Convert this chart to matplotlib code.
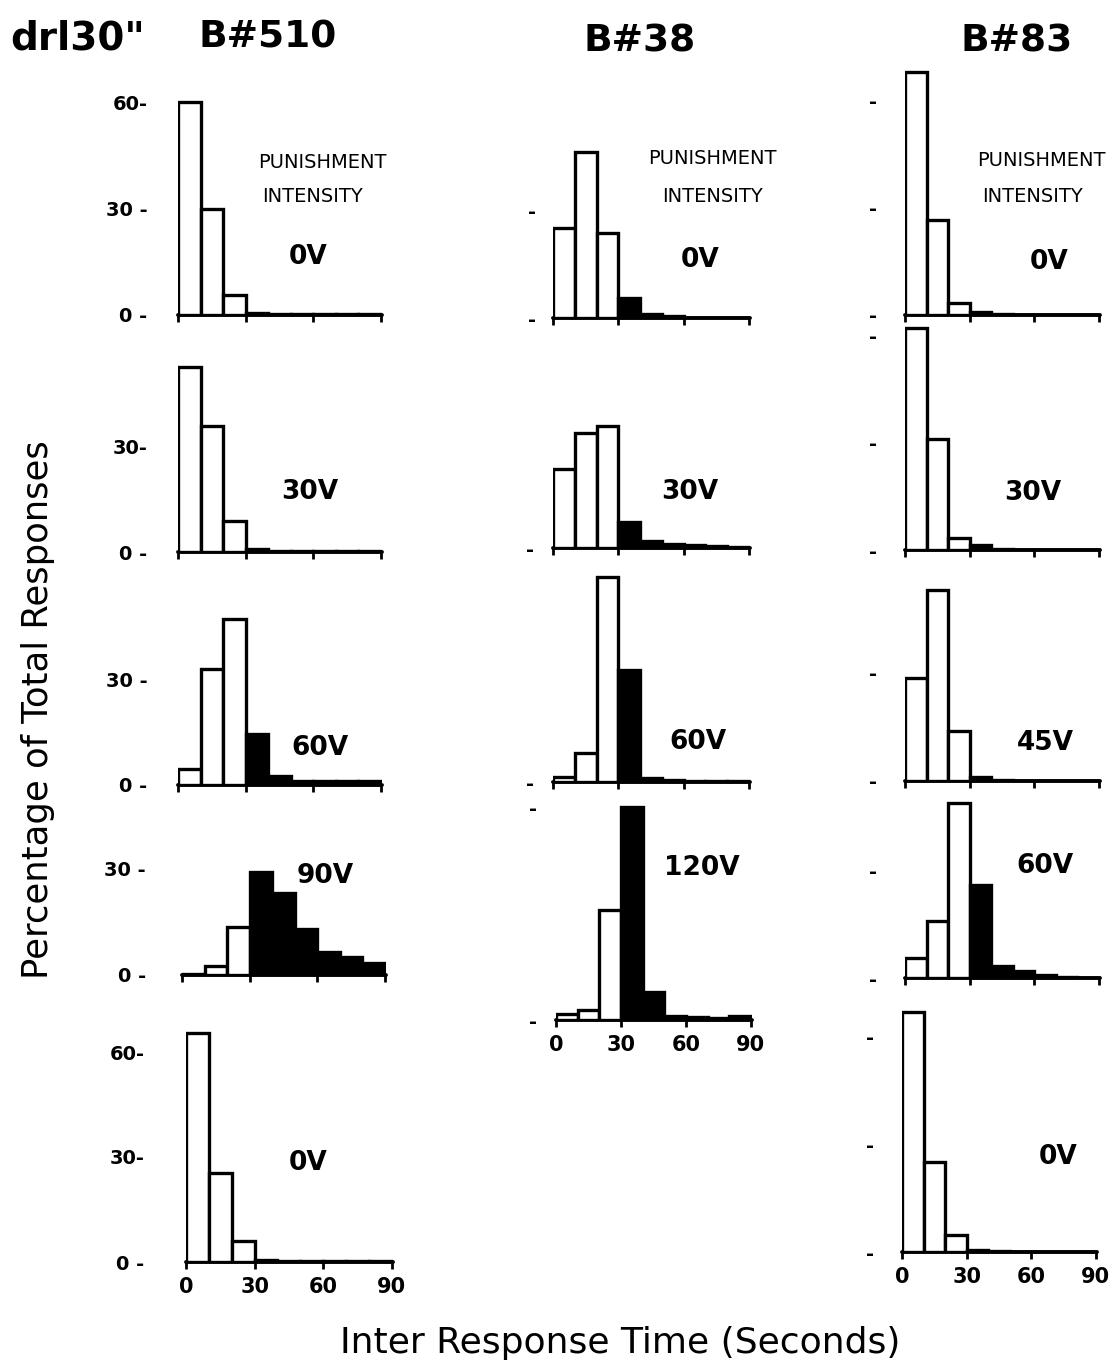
import matplotlib
matplotlib.use("Agg")
import matplotlib.pyplot as plt
import numpy as np

plt.rcParams['font.family'] = ['DejaVu Sans']

W, H = 1113, 1365

# IRT bins (seconds)
bin_edges = [0, 10, 20, 30, 40, 50, 60, 70, 80, 90]
punish_from = 30  # bins at/after this IRT are punished (filled black)

# Percentage of total responses per 10-s IRT bin
b510_0v_a = [60, 30, 5.6, 0.6, 0.3, 0.2, 0.2, 0.2, 0.2]
b510_30v = [53, 36, 9, 0.8, 0.3, 0.2, 0.2, 0.2, 0.2]
b510_60v = [4.5, 33, 47, 14.5, 2.5, 1, 1, 1, 1]
b510_90v = [0.3, 2.5, 13.5, 29, 23, 13, 6.5, 5, 3.5]
b510_0v_b = [65.5, 25.3, 6, 0.7, 0.4, 0.2, 0.2, 0.2, 0.2]

b38_0v = [25, 46, 23.5, 5.5, 1.2, 0.5, 0, 0, 0]
b38_30v = [22, 32, 34, 7.2, 2, 1.2, 0.8, 0.5, 0.3]
b38_60v = [1.5, 8, 57, 31, 1, 0.5, 0.4, 0.3, 0.3]
b38_120v = [1.8, 2.8, 31, 60, 7.8, 1.2, 0.8, 0.5, 1]

b83_0v_a = [68, 26.5, 3.4, 0.8, 0.3, 0.1, 0.1, 0.1, 0.1]
b83_30v = [62, 31, 3.3, 1.4, 0.4, 0.1, 0.1, 0.1, 0.1]
b83_45v = [28.6, 53, 14, 1, 0.2, 0.1, 0.1, 0.1, 0.1]
b83_60v = [5.5, 15.8, 48.6, 25.8, 3.3, 2, 0.7, 0.2, 0.1]
b83_0v_b = [66.6, 25, 4.7, 0.6, 0.2, 0.1, 0.1, 0.1, 0.1]

subjects = ["B#510", "B#38", "B#83"]
x_ticks = [0, 30, 60, 90]

fig = plt.figure(figsize=(W / 100, H / 100), dpi=100)


def px_text(x, y, s, **kw):
    fig.text(x / W, 1 - y / H, s, **kw)


def panel(vals, x0, x1, zero_y, scale, yticks, ylabels, pad, label, lx, ly,
          show_xlabels=False, ymax=72):
    height = ymax * scale
    ax = fig.add_axes([x0 / W, 1 - zero_y / H, (x1 - x0) / W, height / H])
    ax.patch.set_alpha(0)
    edges = np.array(bin_edges[:-1])
    colors = ['black' if e >= punish_from else 'white' for e in edges]
    ax.bar(edges, vals, width=10, align='edge', color=colors,
           edgecolor='black', linewidth=2.4, zorder=3)
    ax.set_xlim(0, 90.5)
    ax.set_ylim(0, ymax)
    for s in ['top', 'right', 'left']:
        ax.spines[s].set_visible(False)
    ax.spines['bottom'].set_linewidth(2.8)
    ax.spines['bottom'].set_capstyle('round')
    ax.set_xticks(x_ticks)
    ax.tick_params(axis='x', direction='out', length=5, width=2)
    if show_xlabels:
        ax.set_xticklabels([str(t) for t in x_ticks], fontsize=15,
                           fontweight='bold')
        ax.tick_params(axis='x', pad=6)
    else:
        ax.set_xticklabels([])
    ax.set_yticks(yticks)
    ax.set_yticklabels(ylabels, fontsize=14, fontweight='bold')
    ax.tick_params(axis='y', length=0, pad=pad)
    px_text(lx, ly, label, fontsize=19, fontweight='bold',
            ha='center', va='center')
    return ax


# Column 1: B#510
panel(b510_0v_a, 178, 382, 315, 3.55, [0, 30, 60], ["0 -", "30 -", "60-"], 22,
      "0V", 308, 257)
panel(b510_30v, 178, 382, 552, 3.5, [0, 30], ["0 -", "30-"], 22,
      "30V", 310, 492)
panel(b510_60v, 178, 382, 785, 3.53, [0, 30], ["0 -", "30 -"], 22,
      "60V", 320, 748)
panel(b510_90v, 182, 386, 975, 3.55, [0, 30], ["0 -", "30 -"], 26,
      "90V", 325, 876)
panel(b510_0v_b, 186, 393, 1262, 3.5, [0, 30, 60], ["0 -", "30-", "60-"], 30,
      "0V", 308, 1163, show_xlabels=True)

# Column 2: B#38
panel(b38_0v, 553, 750, 318, 3.6, [0, 30], ["-", "-"], 12, "0V", 700, 260)
panel(b38_30v, 553, 750, 548, 3.6, [0], ["-"], 14, "30V", 690, 492)
panel(b38_60v, 553, 750, 782, 3.6, [0], ["-"], 14, "60V", 698, 742)
panel(b38_120v, 556, 752, 1020, 3.55, [0, 60], ["-", "-"], 14, "120V", 702, 868,
      show_xlabels=True)

# Column 3: B#83
panel(b83_0v_a, 905, 1100, 315, 3.58, [0, 30, 60], ["-", "-", "-"], 20,
      "0V", 1049, 262)
panel(b83_30v, 905, 1100, 550, 3.58, [0, 30, 60], ["-", "-", "-"], 20,
      "30V", 1033, 493)
panel(b83_45v, 905, 1100, 781, 3.6, [0, 30], ["-", "-"], 20,
      "45V", 1045, 743)
panel(b83_60v, 905, 1100, 978, 3.6, [0, 30], ["-", "-"], 20,
      "60V", 1045, 866)
panel(b83_0v_b, 902, 1097, 1252, 3.6, [0, 30, 60], ["-", "-", "-"], 20,
      "0V", 1058, 1157, show_xlabels=True)

# Headings
px_text(10, 38, 'drl30"', fontsize=28, fontweight='bold', ha='left', va='center')
px_text(268, 38, subjects[0], fontsize=27, fontweight='bold', ha='center', va='center')
px_text(640, 42, subjects[1], fontsize=27, fontweight='bold', ha='center', va='center')
px_text(1017, 42, subjects[2], fontsize=27, fontweight='bold', ha='center', va='center')

for cx, y1, cx2, y2 in [(322, 162, 313, 197), (712, 158, 712, 197),
                        (1041, 160, 1032, 197)]:
    px_text(cx, y1, "PUNISHMENT", fontsize=14, ha='center', va='center')
    px_text(cx2, y2, "INTENSITY", fontsize=14, ha='center', va='center')

px_text(38, 710, "Percentage of Total Responses", fontsize=25.5, rotation=90,
        ha='center', va='center')
px_text(620, 1343, "Inter Response Time (Seconds)", fontsize=26,
        ha='center', va='center')

fig.savefig("out.png", dpi=100)
